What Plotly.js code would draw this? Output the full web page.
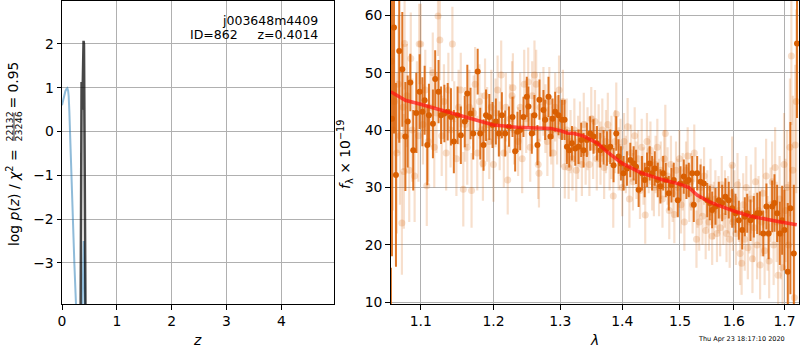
<!DOCTYPE html>
<html>
<head>
<meta charset="utf-8">
<script src="https://cdn.plot.ly/plotly-3.0.1.min.js"></script>
<style>html,body{margin:0;padding:0;background:#fff;}#chart{width:800px;height:350px;}</style>
</head>
<body>
<div id="chart"></div>
<script>
// ---- p(z) panel ----
const pzBlueZ   = [0, 0.02, 0.04, 0.061, 0.08, 0.097, 0.112, 0.122, 0.134, 0.146,
                   0.164, 0.188, 0.225, 0.255, 0.30, 0.355, 0.378, 0.396, 0.415, 0.44, 0.48];
const pzBlueLog = [0.6, 0.72, 0.83, 0.92, 0.97, 0.99, 0.93, 0.8, 0.46, 0.0,
                   -1.0, -2.0, -3.0, -3.94, -5.5, -6, -3.6, -2.5, -3.6, -6, -9];
const pzDarkZ   = [0.33, 0.345, 0.352, 0.357, 0.362, 0.372, 0.385, 0.393, 0.401, 0.408, 0.418, 0.43, 0.45];
const pzDarkLog = [-7, -3.0, 0.0, 1.13, 0.5, 0.6, 1.5, 2.07, 2.0, 0.5, -2.5, -5.5, -9];
const zTicks = [0, 1, 2, 3, 4];
const pzTicks = [-3, -2, -1, 0, 1, 2];

// ---- spectrum panel: model ----
const modelWave = [1.0612, 1.08, 1.10, 1.135, 1.16, 1.20, 1.234, 1.264, 1.285, 1.30, 1.31, 1.321, 1.336, 1.359,
                   1.375, 1.40, 1.431, 1.471, 1.50, 1.516, 1.531, 1.556, 1.60, 1.632, 1.658, 1.692, 1.7251];
const modelFlux = [46.7, 45.2, 44.5, 43.2, 42.3, 40.9, 40.5, 40.4, 40.3, 39.9, 39.5, 39.4, 39.0, 37.7,
                   36.2, 34.2, 32.6, 31.3, 30.6, 30.0, 28.7, 27.4, 25.9, 25.0, 24.5, 24.0, 23.5];

// ---- spectrum panel: combined (dark) points ----
const darkWave = [
 1.0615, 1.0628, 1.0654, 1.0679, 1.0721, 1.0760, 1.0800, 1.0830, 1.0864, 1.0902,
 1.0942, 1.0986, 1.1022, 1.1052, 1.1087, 1.1109, 1.1162, 1.1192, 1.1237, 1.1271,
 1.1316, 1.1361, 1.1405, 1.1445, 1.1496, 1.1541, 1.1595, 1.1631, 1.1676, 1.1713,
 1.1776, 1.1812, 1.1859, 1.1894, 1.1941, 1.1987, 1.2035, 1.2078, 1.2122, 1.2170,
 1.2225, 1.2277, 1.2316, 1.2350, 1.2390, 1.2439, 1.2489, 1.2513, 1.2564, 1.2603,
 1.2649, 1.2679, 1.2740, 1.2766, 1.2817, 1.2847, 1.2880, 1.2920, 1.2972, 1.3025,
 1.3066, 1.3103, 1.3139, 1.3182, 1.3234, 1.3286, 1.3329, 1.3366, 1.3420, 1.3473,
 1.3527, 1.3582, 1.3636, 1.3690, 1.3746, 1.3801, 1.3855, 1.3900, 1.3938, 1.3978,
 1.4022, 1.4079, 1.4135, 1.4192, 1.4233, 1.4277, 1.4335, 1.4381, 1.4422, 1.4467,
 1.4509, 1.4555, 1.4607, 1.4654, 1.4702, 1.4748, 1.4801, 1.4849, 1.4890, 1.4962,
 1.5010, 1.5070, 1.5118, 1.5160, 1.5222, 1.5251, 1.5313, 1.5374, 1.5435, 1.5498,
 1.5546, 1.5590, 1.5652, 1.5714, 1.5778, 1.5840, 1.5903, 1.5968, 1.6031, 1.6095,
 1.6161, 1.6211, 1.6258, 1.6322, 1.6387, 1.6454, 1.6505, 1.6573, 1.6636, 1.6680,
 1.6750, 1.6797, 1.6850, 1.6904, 1.6952, 1.6998, 1.7066, 1.7120, 1.7190, 1.7256];
const darkFlux = [
 6, 42, 57.9, 32.2, 53.8, 50.6, 38.9, 41.5, 48.3, 36.5,
 43.0, 46.7, 43.2, 45.2, 37.4, 42.6, 41.1, 48.9, 46.7, 42.6,
 42.9, 43.2, 42.3, 38.0, 42.6, 39.1, 41.5, 46.4, 42.9, 39.4,
 50.2, 39.4, 37.4, 42.6, 42.3, 40.9, 41.5, 39.4, 42.6, 39.4,
 40.6, 42.3, 36.3, 39.7, 40.0, 42.3, 45.8, 44.1, 39.4, 42.6,
 37.4, 45.3, 43.5, 41.8, 45.8, 38.9, 42.0, 43.2, 42.6, 41.8,
 41.8, 37.1, 36.5, 37.7, 36.8, 37.1, 38.3, 36.5, 38.3, 39.4,
 38.9, 37.7, 36.5, 37.0, 36.8, 37.1, 33.9, 39.4, 35.4, 34.2,
 32.5, 33.3, 34.8, 34.2, 33.6, 29.6, 32.5, 31.3, 33.1, 34.2,
 32.5, 33.3, 31.3, 30.2, 32.5, 31.3, 29.0, 30.4, 31.3, 27.8,
 30.7, 31.9, 31.0, 31.3, 32.5, 27.0, 32.5, 31.0, 30.7, 27.8,
 27.3, 26.1, 26.7, 27.8, 27.3, 28.4, 27.8, 26.4, 25.5, 24.3,
 22.6, 24.9, 25.5, 24.3, 24.9, 25.5, 25.5, 22.0, 26.7, 22.0,
 26.7, 27.3, 25.5, 22.0, 24.3, 22.6, 15.3, 26.4, 18.5, 55.1];
const darkErr = [
 10, 24, 18.5, 16, 16, 10, 9.5, 8, 5, 7,
 7, 6.5, 6, 6, 7, 5.5, 6, 5, 5.5, 5,
 5, 5, 5, 5.5, 5, 5, 4.5, 5, 4.5, 4.5,
 4, 4.5, 4.5, 4.5, 4, 4, 4, 4, 4, 4,
 3.5, 3.5, 3.5, 3.5, 3.5, 3.5, 3.5, 3.5, 3.5, 3.5,
 3.5, 3.5, 3.5, 3.5, 3.5, 3.5, 3.5, 3.5, 3.5, 3.5,
 3.5, 3, 3, 3, 3, 3, 3, 3, 3, 3,
 3, 3, 3, 3, 3, 3, 3, 3, 3, 3,
 3, 3, 3, 3, 3, 3, 3, 3, 3, 3,
 3, 3, 3, 3, 3, 3, 3, 3, 3, 3,
 3, 3, 3, 3, 3, 3, 3, 3, 3, 3,
 3, 3.2, 3.2, 3.2, 3.2, 3.2, 3.2, 3.4, 3.4, 3.4,
 3.4, 3.4, 3.4, 3.6, 3.6, 3.6, 3.8, 4, 4, 4.5,
 4.5, 5, 5, 5.5, 6, 7, 12, 15, 12, 13];

// ---- spectrum panel: individual beam (light) points ----
const lightWave = [
 1.062, 1.064, 1.066, 1.069, 1.071, 1.073, 1.0755, 1.077, 1.078, 1.079,
 1.082, 1.085, 1.087, 1.089, 1.092, 1.095, 1.097, 1.098, 1.100, 1.103,
 1.106, 1.108, 1.110, 1.113, 1.116, 1.118, 1.121, 1.123, 1.1255, 1.128,
 1.131, 1.134, 1.137, 1.140, 1.1425, 1.145, 1.148, 1.151, 1.154, 1.1575,
 1.160, 1.163, 1.166, 1.169, 1.172, 1.174, 1.177, 1.180, 1.183, 1.185,
 1.188, 1.191, 1.194, 1.197, 1.200, 1.203, 1.206, 1.209, 1.2112, 1.215,
 1.218, 1.2207, 1.224, 1.227, 1.2283, 1.230, 1.236, 1.239, 1.242, 1.245,
 1.248, 1.251, 1.254, 1.257, 1.2604, 1.263, 1.266, 1.2672, 1.269, 1.274,
 1.277, 1.280, 1.283, 1.286, 1.289, 1.292, 1.295, 1.298, 1.301, 1.304,
 1.307, 1.310, 1.313, 1.316, 1.319, 1.322, 1.325, 1.328, 1.331, 1.334,
 1.337, 1.340, 1.343, 1.346, 1.349, 1.352, 1.355, 1.358, 1.361, 1.364,
 1.367, 1.370, 1.373, 1.376, 1.379, 1.382, 1.385, 1.388, 1.390, 1.394,
 1.397, 1.400, 1.403, 1.406, 1.409, 1.412, 1.415, 1.418, 1.421, 1.424,
 1.427, 1.430, 1.433, 1.436, 1.439, 1.442, 1.445, 1.448, 1.451, 1.454,
 1.457, 1.460, 1.463, 1.466, 1.469, 1.472, 1.474, 1.478, 1.481, 1.484,
 1.487, 1.490, 1.493, 1.496, 1.499, 1.502, 1.505, 1.508, 1.511, 1.514,
 1.517, 1.520, 1.523, 1.526, 1.530, 1.532, 1.535, 1.538, 1.541, 1.544,
 1.547, 1.550, 1.553, 1.556, 1.559, 1.562, 1.565, 1.568, 1.571, 1.574,
 1.577, 1.580, 1.583, 1.586, 1.589, 1.5968, 1.592, 1.595, 1.598, 1.601,
 1.604, 1.607, 1.612, 1.610, 1.615, 1.618, 1.621, 1.624, 1.627, 1.630,
 1.633, 1.636, 1.639, 1.642, 1.645, 1.648, 1.651, 1.654, 1.657, 1.660,
 1.663, 1.666, 1.669, 1.672, 1.675, 1.678, 1.681, 1.684, 1.687, 1.690,
 1.693, 1.696, 1.699, 1.702, 1.705, 1.708, 1.711, 1.714, 1.717, 1.720,
 1.722, 1.724];
const lightFlux = [
 52, 40, 45, 36, 48, 39, 23.8, 44, 32.8, 55.1,
 46, 33, 52.5, 40, 32, 44, 39, 55, 55, 41,
 47, 30.3, 38, 44, 50, 37, 43, 59.9, 55.7, 39,
 45, 36, 47, 40, 55, 42, 35, 44, 47, 29.7,
 41, 37, 44, 29.5, 43, 48, 36, 45, 40, 34.2,
 46, 41, 38, 44, 34, 43, 47, 39, 49.6, 36,
 44, 31.3, 42, 46, 47.4, 40, 38, 44, 35, 48,
 42, 48.4, 37, 46, 49.6, 48, 34, 32.5, 44, 45,
 42, 38, 45, 40, 36, 44, 40, 47, 39, 45,
 33.6, 40, 33.5, 38, 35, 40, 33, 37, 39.5, 34,
 41, 36, 38.5, 34, 42, 37, 41.5, 35, 39, 36,
 40, 33.5, 38, 41, 35, 37, 28.5, 38, 42.8, 35,
 37, 30, 38, 34, 40.6, 28, 36, 31, 39, 33,
 35, 29.5, 37, 32, 25.2, 38, 34, 36.5, 31, 30,
 34, 37, 30, 33, 28, 35, 39.4, 32, 26, 34,
 29, 25.3, 33, 30, 35, 27, 31, 24, 33, 35.5,
 29, 31, 27, 36, 21, 28, 24, 30, 25, 32,
 22.5, 28, 24, 30, 21.5, 26, 28, 22, 27, 23,
 30.5, 25, 28, 22, 27, 33.9, 21, 29, 24, 28,
 22, 30.5, 18.5, 26, 16.8, 27, 21, 30, 19.5, 24,
 28, 17.6, 23, 31, 20, 26, 16.5, 24, 29, 19,
 32, 22, 17.2, 27, 31, 20, 33.5, 24, 14.7, 28,
 22, 16, 34, 26, 30, 20, 37, 52.9, 33, 10.8,
 37.4, 45];
const lightErr = [
 12, 14, 13, 14, 12, 12, 9, 11, 10, 8,
 9, 9, 8, 9, 8, 8, 8, 7, 7, 7,
 7, 7, 7, 7, 7, 7, 7, 7, 7, 7,
 6.5, 6.5, 6.5, 6.5, 6.5, 6.5, 6.5, 6.5, 6.5, 6.5,
 6.5, 6.5, 6.5, 6.5, 6.5, 6.5, 6.5, 6.5, 6.5, 6.5,
 6.5, 6.5, 6.5, 6.5, 6.5, 6, 6, 6, 6, 6,
 6, 6, 6, 6, 6, 6, 6, 6, 6, 6,
 6, 6, 6, 6, 6, 6, 6, 6, 6, 6,
 6, 6, 6, 6, 6, 6, 6, 6, 5.5, 5.5,
 5.5, 5.5, 5.5, 5.5, 5.5, 5.5, 5.5, 5.5, 5.5, 5.5,
 5.5, 5.5, 5.5, 5.5, 5.5, 5.5, 5.5, 5.5, 5.5, 5.5,
 5.5, 5.5, 5.5, 5.5, 5.5, 5.5, 5.5, 5.5, 5.5, 5.5,
 5, 5, 5, 5, 5, 5, 5, 5, 5, 5,
 5, 5, 5, 5, 5, 5, 5, 5, 5, 5,
 5, 5, 5, 5, 5, 5, 5, 5, 5, 5,
 5, 5, 5, 5, 5, 5, 5, 5, 5, 5,
 5, 5, 5, 5, 5, 5, 5, 5, 5, 5,
 5, 5, 5, 5, 5, 5, 5, 5, 5, 5,
 5, 5, 5, 5, 5, 5, 5, 5, 5, 5,
 5.5, 5.5, 5.5, 5.5, 5.5, 5.5, 5.5, 5.5, 5.5, 5.5,
 6, 6, 6, 6, 6, 6, 6, 6, 6, 6,
 6.5, 6.5, 6.5, 6.5, 7, 7, 7, 7, 7, 7.5,
 8, 8, 9, 9, 10, 11, 12, 12, 13, 13,
 14, 16];
const waveTicks = [1.1, 1.2, 1.3, 1.4, 1.5, 1.6, 1.7];
const waveTickText = ['1.1', '1.2', '1.3', '1.4', '1.5', '1.6', '1.7'];

const ORANGE = 'rgb(217,95,2)';
const ORANGE_L = 'rgba(217,95,2,0.2)';
const FONT = 'DejaVu Sans, Liberation Sans, sans-serif';

const traces = [
  {x: pzBlueZ, y: pzBlueLog, xaxis: 'x', yaxis: 'y', type: 'scatter', mode: 'lines',
   line: {color: 'rgba(31,119,180,0.5)', width: 2}, hoverinfo: 'skip'},
  {x: pzDarkZ, y: pzDarkLog, xaxis: 'x', yaxis: 'y', type: 'scatter', mode: 'lines',
   line: {color: 'rgba(0,0,0,0.72)', width: 2.5}, hoverinfo: 'skip'},
  {x: lightWave, y: lightFlux, xaxis: 'x2', yaxis: 'y2', type: 'scatter', mode: 'markers',
   marker: {color: ORANGE_L, size: 7, line: {width: 0}},
   error_y: {type: 'data', array: lightErr, visible: true, color: ORANGE_L, thickness: 2.2, width: 0}},
  {x: darkWave, y: darkFlux, xaxis: 'x2', yaxis: 'y2', type: 'scatter', mode: 'markers',
   marker: {color: ORANGE, size: 6, line: {width: 0}},
   error_y: {type: 'data', array: darkErr, visible: true, color: 'rgba(217,95,2,0.85)', thickness: 2, width: 0}},
  {x: modelWave, y: modelFlux, xaxis: 'x2', yaxis: 'y2', type: 'scatter', mode: 'lines',
   line: {color: 'rgba(255,20,20,0.72)', width: 3.5}}
];

const axBase = {
  showline: true, mirror: true, linecolor: '#000', linewidth: 1,
  ticks: 'outside', ticklen: 4.5, tickwidth: 1, tickcolor: '#000',
  showgrid: true, gridcolor: '#b0b0b0', gridwidth: 1, zeroline: false,
  tickfont: {family: FONT, size: 13.9, color: '#000'}
};

function ann(text, x, y, opts) {
  return Object.assign({text: text, xref: 'paper', yref: 'paper', x: x, y: y,
    xanchor: 'center', yanchor: 'middle', showarrow: false, font: {size: 13.9}}, opts || {});
}

const layout = {
  width: 800, height: 350,
  margin: {l: 62, r: 1, t: 1, b: 46},
  paper_bgcolor: '#fff', plot_bgcolor: '#fff',
  showlegend: false,
  font: {family: FONT, size: 13.9, color: '#000'},
  xaxis: Object.assign({}, axBase, {domain: [0, 0.36907], range: [0, 4.96],
    tickmode: 'array', tickvals: zTicks, anchor: 'y'}),
  yaxis: Object.assign({}, axBase, {domain: [0, 1], range: [-3.94, 2.98],
    tickmode: 'array', tickvals: pzTicks, anchor: 'x'}),
  xaxis2: Object.assign({}, axBase, {domain: [0.446, 1], type: 'log',
    range: [Math.log10(1.0612), Math.log10(1.7297)],
    tickmode: 'array', tickvals: waveTicks, ticktext: waveTickText, anchor: 'y2'}),
  yaxis2: Object.assign({}, axBase, {domain: [0, 1], range: [9.7, 62.5],
    tickmode: 'linear', tick0: 10, dtick: 10, anchor: 'x2'}),
  shapes: [
    {type: 'line', xref: 'paper', yref: 'paper', x0: -0.06513, x1: -0.06513, y0: 0.538, y1: 0.630,
     line: {color: '#000', width: 0.8}}
  ],
  annotations: [
    ann('log <i>p</i>(<i>z</i>) / <i>χ</i><sup>2</sup> =', -0.0665, 0.3530, {textangle: -90}),
    ann('22132', -0.0712, 0.5842, {textangle: -90, font: {size: 9.5}}),
    ann('23246', -0.0590, 0.5842, {textangle: -90, font: {size: 9.5}}),
    ann('= 0.95', -0.0665, 0.7240, {textangle: -90}),
    ann('<i>f</i><sub>λ</sub> × 10<sup>−19</sup>', 0.384, 0.492, {textangle: -90}),
    ann('<i>z</i>', 0.1845, -0.119),
    ann('<i>λ</i>', 0.7219, -0.119),
    ann('j003648m4409', 0.3500, 0.937, {xanchor: 'right', font: {size: 12.5}}),
    ann('ID=862\u00a0\u00a0\u00a0\u00a0\u00a0z=0.4014', 0.3500, 0.888, {xanchor: 'right', font: {size: 12.5}}),
    ann('Thu Apr 23 18:17:10 2020', 0.9837, -0.1155, {xanchor: 'right', font: {size: 6.5}})
  ]
};

Plotly.newPlot('chart', traces, layout, {staticPlot: true, displayModeBar: false});
</script>
</body>
</html>
